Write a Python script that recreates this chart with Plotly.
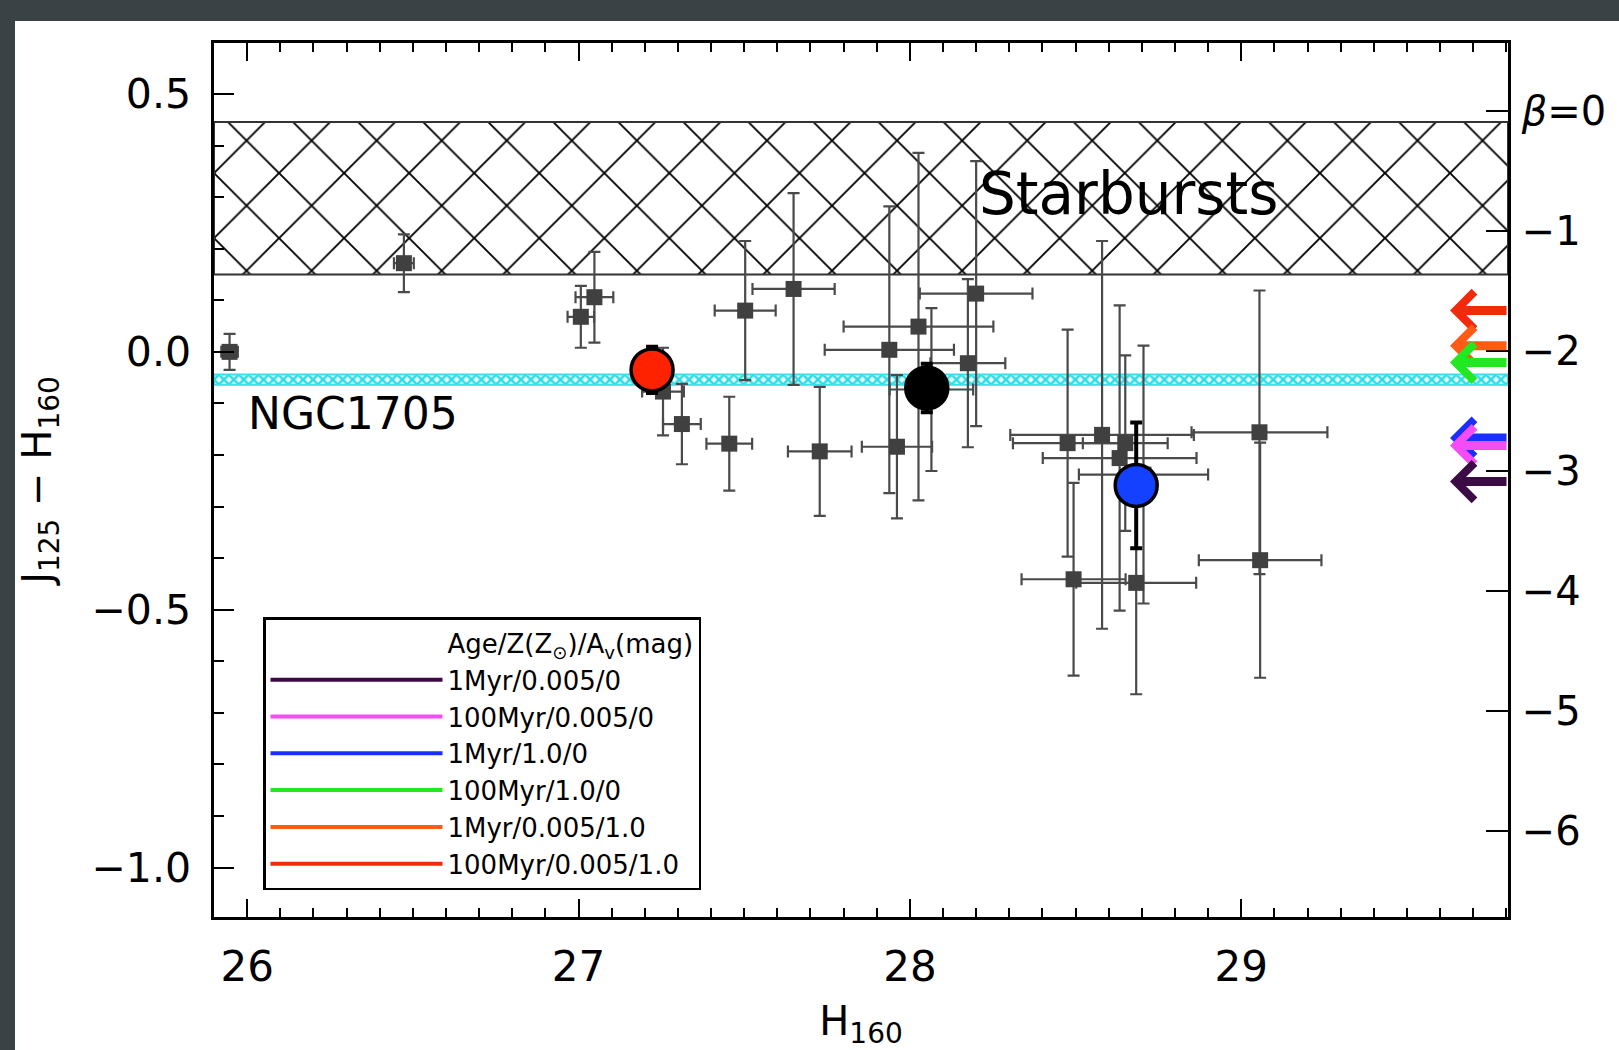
import plotly.graph_objects as go

# ---- axis limits -------------------------------------------------------
H_RANGE = [25.9, 29.805]
JH_RANGE = [-1.096, 0.599]

# ---- photometric sample (H160, J125-H160 with 1-sigma errors) ----------
H160 = [25.947, 26.473, 27.007, 27.048, 27.255, 27.312, 27.455, 27.503,
        27.649, 27.728, 27.938, 27.961, 28.026, 28.065, 28.175, 28.200,
        28.476, 28.580, 28.633, 28.650, 28.705, 28.494, 28.683, 29.055,
        29.057]
H160_ERR = [0.025, 0.030, 0.040, 0.057, 0.063, 0.057, 0.069, 0.092,
            0.124, 0.096, 0.195, 0.106, 0.226, 0.126, 0.113, 0.170,
            0.165, 0.277, 0.232, 0.128, 0.195, 0.157, 0.181, 0.205,
            0.185]
JH = [0.000, 0.172, 0.068, 0.106, -0.077, -0.140, -0.178, 0.080,
      0.122, -0.193, 0.004, -0.184, 0.049, -0.073, -0.022, 0.113,
      -0.177, -0.161, -0.206, -0.177, -0.238, -0.441, -0.448, -0.156,
      -0.404]
JH_ERR = [0.035, 0.056, 0.060, 0.088, 0.085, 0.078, 0.091, 0.135,
          0.186, 0.125, 0.278, 0.139, 0.337, 0.158, 0.163, 0.257,
          0.220, 0.376, 0.296, 0.170, 0.250, 0.187, 0.216, 0.275,
          0.228]

# ---- stacked / highlighted points --------------------------------------
BIG_H = [27.222, 28.051, 28.683]
BIG_JH = [-0.035, -0.070, -0.259]
BIG_JH_ERR = [0.045, 0.047, 0.122]
BIG_COLORS = ["#ff2200", "#000000", "#1440ff"]

# ---- model colours (legend + arrows on the beta axis) ------------------
MODEL_LABELS = ["1Myr/0.005/0", "100Myr/0.005/0", "1Myr/1.0/0",
                "100Myr/1.0/0", "1Myr/0.005/1.0", "100Myr/0.005/1.0"]
MODEL_JH = [-0.2515, -0.1816, -0.167, -0.0205, 0.0118, 0.0804]
MODEL_COLORS = ["#3c0a44", "#f64cf6", "#1a2eff", "#22e822", "#ff5a16",
                "#f22a0c"]
ARROW_TIP_H = 29.63

# ---- reference bands ---------------------------------------------------
STARBURST_JH = [0.150, 0.446]
NGC1705_JH = [-0.064, -0.044]

# ---- UV slope axis: J-H = BETA_ZERO_JH + BETA_SLOPE * beta -------------
BETA_ZERO_JH = 0.468
BETA_SLOPE = 0.233
BETA_TICKS = [0, -1, -2, -3, -4, -5, -6]

FONT = "DejaVu Sans"

fig = go.Figure()

# Starburst hatched band
fig.add_trace(go.Scatter(
    x=[H_RANGE[0], H_RANGE[1], H_RANGE[1], H_RANGE[0], H_RANGE[0]],
    y=[STARBURST_JH[0], STARBURST_JH[0], STARBURST_JH[1], STARBURST_JH[1],
       STARBURST_JH[0]],
    mode="lines", fill="toself", fillcolor="white",
    fillpattern=dict(shape="x", size=46, solidity=0.08, fgcolor="#000000",
                     fgopacity=1, bgcolor="white"),
    line=dict(color="#333333", width=2),
    hoverinfo="skip", showlegend=False))

# NGC1705 colour band
fig.add_trace(go.Scatter(
    x=[H_RANGE[0], H_RANGE[1], H_RANGE[1], H_RANGE[0], H_RANGE[0]],
    y=[NGC1705_JH[0], NGC1705_JH[0], NGC1705_JH[1], NGC1705_JH[1],
       NGC1705_JH[0]],
    mode="lines", fill="toself",
    fillpattern=dict(shape="x", size=7, solidity=0.6, fgcolor="#2edce6",
                     fgopacity=1, bgcolor="#eafdfe"),
    line=dict(color="#38e0ea", width=2),
    hoverinfo="skip", showlegend=False))

# Individual galaxies
fig.add_trace(go.Scatter(
    x=H160, y=JH, mode="markers",
    marker=dict(symbol="square", size=16, color="#404040"),
    error_x=dict(type="data", array=H160_ERR, color="#4a4a4a",
                 thickness=2.2, width=6),
    error_y=dict(type="data", array=JH_ERR, color="#4a4a4a",
                 thickness=2.2, width=6),
    showlegend=False))

# Highlighted points
fig.add_trace(go.Scatter(
    x=BIG_H, y=BIG_JH, mode="markers",
    marker=dict(symbol="circle", size=42, color=BIG_COLORS,
                line=dict(color="black", width=3.5)),
    error_y=dict(type="data", array=BIG_JH_ERR, color="black",
                 thickness=4, width=6),
    showlegend=False))

# Legend header row (no symbol)
fig.add_trace(go.Scatter(
    x=[None], y=[None], mode="lines", yaxis="y2",
    name="Age/Z(Z<sub>⊙</sub>)/A<sub>v</sub>(mag)",
    line=dict(color="rgba(0,0,0,0)", width=0)))

# Model legend entries
for label, color in zip(MODEL_LABELS, MODEL_COLORS):
    fig.add_trace(go.Scatter(
        x=[None], y=[None], mode="lines", name=label, yaxis="y2",
        line=dict(color=color, width=4)))

# Model colour arrows at the right axis
annotations = []
for jh, color in reversed(list(zip(MODEL_JH, MODEL_COLORS))):
    annotations.append(dict(
        x=ARROW_TIP_H, y=jh, xref="x", yref="y",
        ax=H_RANGE[1], ay=jh, axref="x", ayref="y",
        text="", showarrow=True, arrowhead=4, arrowsize=0.8,
        arrowwidth=9, arrowcolor=color))

annotations += [
    dict(x=28.203, y=0.307, xref="x", yref="y", text="Starbursts",
         showarrow=False, xanchor="left", yanchor="middle",
         font=dict(family=FONT, size=58, color="black")),
    dict(x=25.998, y=-0.120, xref="x", yref="y", text="NGC1705",
         showarrow=False, xanchor="left", yanchor="middle",
         font=dict(family=FONT, size=44, color="black")),
]

beta_lo = (JH_RANGE[0] - BETA_ZERO_JH) / BETA_SLOPE
beta_hi = (JH_RANGE[1] - BETA_ZERO_JH) / BETA_SLOPE
beta_text = ["<i>β</i>=0" if b == 0 else "−%d" % abs(b) for b in BETA_TICKS]

W, H = 1619, 1050
ML, MR, MT, MB = 214, 111, 43, 133
pw, ph = W - ML - MR, H - MT - MB

fig.update_layout(
    width=W, height=H,
    margin=dict(l=ML, r=MR, t=MT, b=MB, pad=0, autoexpand=False),
    paper_bgcolor="#3b4246",
    plot_bgcolor="white",
    font=dict(family=FONT, color="black"),
    showlegend=True,
    legend=dict(
        x=(263 - ML) / pw, y=(MT + ph - 890) / ph,
        xanchor="left", yanchor="bottom",
        bgcolor="white", bordercolor="black", borderwidth=2.5,
        font=dict(family=FONT, size=26, color="black"),
        itemwidth=172, tracegroupgap=0, itemclick=False),
    annotations=annotations,
    shapes=[dict(
        type="rect", xref="paper", yref="paper", layer="below",
        x0=(15 - ML) / pw, x1=(W + 20 - ML) / pw,
        y0=(MT + ph - (H + 20)) / ph, y1=(MT + ph - 21) / ph,
        fillcolor="white", line=dict(width=0))],
    xaxis=dict(
        range=H_RANGE, tick0=26, dtick=1, ticks="inside", ticklen=18,
        tickwidth=2, tickcolor="black", showline=True, linewidth=2.5,
        linecolor="black", mirror="ticks", showgrid=False, zeroline=False,
        automargin=False,
        tickfont=dict(family=FONT, size=42), ticklabelstandoff=11,
        minor=dict(dtick=0.1, ticks="inside", ticklen=9, tickwidth=2,
                   tickcolor="black", showgrid=False),
        title=dict(text="H<sub>160</sub>", font=dict(family=FONT, size=40),
                   standoff=30)),
    yaxis=dict(
        range=JH_RANGE, tick0=0, dtick=0.5, tickformat=".1f",
        ticks="inside", ticklen=20, tickwidth=2, tickcolor="black",
        showline=True, linewidth=2.5, linecolor="black", mirror=False,
        showgrid=False, zeroline=False, automargin=False,
        tickfont=dict(family=FONT, size=41), ticklabelstandoff=12,
        minor=dict(dtick=0.1, ticks="inside", ticklen=10, tickwidth=2,
                   tickcolor="black", showgrid=False),
        title=dict(text="J<sub>125</sub> − H<sub>160</sub>",
                   font=dict(family=FONT, size=40), standoff=28)),
    yaxis2=dict(
        overlaying="y", side="right", range=[beta_lo, beta_hi],
        tickvals=BETA_TICKS, ticktext=beta_text, ticks="inside",
        ticklen=22, tickwidth=2, tickcolor="black", showline=True,
        linewidth=2.5, linecolor="black", showgrid=False, zeroline=False,
        automargin=False,
        tickfont=dict(family=FONT, size=40), ticklabelstandoff=3),
)

fig.write_html("out.html")
